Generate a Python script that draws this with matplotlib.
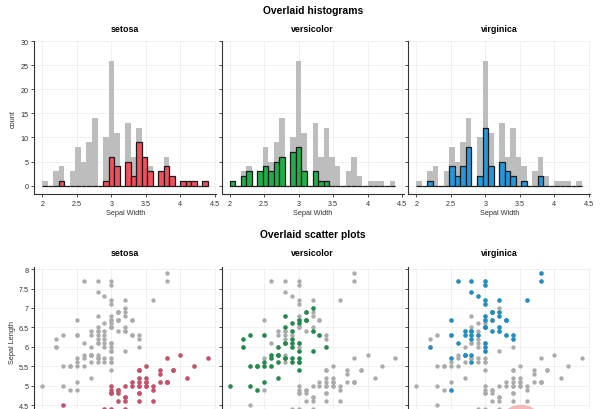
import matplotlib.pyplot as plt
import numpy as np
from matplotlib.patches import Ellipse

# iris data, sepal measurements per species
species = ['setosa', 'versicolor', 'virginica']

setosa_length = [5.1, 4.9, 4.7, 4.6, 5.0, 5.4, 4.6, 5.0, 4.4, 4.9, 5.4, 4.8, 4.8, 4.3, 5.8, 5.7, 5.4,
                 5.1, 5.7, 5.1, 5.4, 5.1, 4.6, 5.1, 4.8, 5.0, 5.0, 5.2, 5.2, 4.7, 4.8, 5.4, 5.2, 5.5,
                 4.9, 5.0, 5.5, 4.9, 4.4, 5.1, 5.0, 4.5, 4.4, 5.0, 5.1, 4.8, 5.1, 4.6, 5.3, 5.0]
setosa_width = [3.5, 3.0, 3.2, 3.1, 3.6, 3.9, 3.4, 3.4, 2.9, 3.1, 3.7, 3.4, 3.0, 3.0, 4.0, 4.4, 3.9,
                3.5, 3.8, 3.8, 3.4, 3.7, 3.6, 3.3, 3.4, 3.0, 3.4, 3.5, 3.4, 3.2, 3.1, 3.4, 4.1, 4.2,
                3.1, 3.2, 3.5, 3.6, 3.0, 3.4, 3.5, 2.3, 3.2, 3.5, 3.8, 3.0, 3.8, 3.2, 3.7, 3.3]

versicolor_length = [7.0, 6.4, 6.9, 5.5, 6.5, 5.7, 6.3, 4.9, 6.6, 5.2, 5.0, 5.9, 6.0, 6.1, 5.6, 6.7,
                     5.6, 5.8, 6.2, 5.6, 5.9, 6.1, 6.3, 6.1, 6.4, 6.6, 6.8, 6.7, 6.0, 5.7, 5.5, 5.5,
                     5.8, 6.0, 5.4, 6.0, 6.7, 6.3, 5.6, 5.5, 5.5, 6.1, 5.8, 5.0, 5.6, 5.7, 5.7, 6.2,
                     5.1, 5.7]
versicolor_width = [3.2, 3.2, 3.1, 2.3, 2.8, 2.8, 3.3, 2.4, 2.9, 2.7, 2.0, 3.0, 2.2, 2.9, 2.9, 3.1,
                    3.0, 2.7, 2.2, 2.5, 3.2, 2.8, 2.5, 2.8, 2.9, 3.0, 2.8, 3.0, 2.9, 2.6, 2.4, 2.4,
                    2.7, 2.7, 3.0, 3.4, 3.1, 2.3, 3.0, 2.5, 2.6, 3.0, 2.6, 2.3, 2.7, 3.0, 2.9, 2.9,
                    2.5, 2.8]

virginica_length = [6.3, 5.8, 7.1, 6.3, 6.5, 7.6, 4.9, 7.3, 6.7, 7.2, 6.5, 6.4, 6.8, 5.7, 5.8, 6.4,
                    6.5, 7.7, 7.7, 6.0, 6.9, 5.6, 7.7, 6.3, 6.7, 7.2, 6.2, 6.1, 6.4, 7.2, 7.4, 7.9,
                    6.4, 6.3, 6.1, 7.7, 6.3, 6.4, 6.0, 6.9, 6.7, 6.9, 5.8, 6.8, 6.7, 6.7, 6.3, 6.5,
                    6.2, 5.9]
virginica_width = [3.3, 2.7, 3.0, 2.9, 3.0, 3.0, 2.5, 2.9, 2.5, 3.6, 3.2, 2.7, 3.0, 2.5, 2.8, 3.2,
                   3.0, 3.8, 2.6, 2.2, 3.2, 2.8, 2.8, 2.7, 3.3, 3.2, 2.8, 3.0, 2.8, 3.0, 2.8, 3.8,
                   2.8, 2.8, 2.6, 3.0, 3.4, 3.1, 3.0, 3.1, 3.1, 3.1, 2.7, 3.2, 3.3, 3.0, 2.5, 3.0,
                   3.4, 3.0]

x_ticks = [2, 2.5, 3, 3.5, 4, 4.5]
x_ticklabels = ['2', '2.5', '3', '3.5', '4', '4.5']
count_ticks = [0, 5, 10, 15, 20, 25, 30]
length_ticks = [4.5, 5, 5.5, 6, 6.5, 7, 7.5, 8]
length_ticklabels = ['4.5', '5', '5.5', '6', '6.5', '7', '7.5', '8']

lengths = [setosa_length, versicolor_length, virginica_length]
widths = [setosa_width, versicolor_width, virginica_width]
all_length = setosa_length + versicolor_length + virginica_length
all_width = setosa_width + versicolor_width + virginica_width

hist_colors = ['#f04f5c', '#1fae4a', '#2597dd']
dot_colors = ['#c8506a', '#1f8b4c', '#1d8fc3']

plt.rcParams['font.family'] = ['Liberation Sans', 'DejaVu Sans']


def style(ax, show_left, show_bottom=True):
    for s in ['top', 'right']:
        ax.spines[s].set_visible(False)
    for s in ['left', 'bottom']:
        ax.spines[s].set_color('#333333')
        ax.spines[s].set_linewidth(0.8)
    ax.tick_params(direction='out', length=2.5, width=0.6, labelsize=5.2,
                   colors='#333333', pad=1.5, labelleft=show_left,
                   labelbottom=show_bottom)
    ax.grid(True, color='#ebebeb', linewidth=0.5)
    ax.set_axisbelow(True)


fig = plt.figure(figsize=(6, 4.1), dpi=100)

lefts = [0.0572, 0.3695, 0.6805]
w = 0.3033
centers = [l + w / 2 for l in lefts]

# 30 bins of 0.08 from 2.0 to 4.4; values sitting on an edge go the same
# way they do in the reference
edges = 2.0 + 0.08 * np.arange(31)
edges[[5, 15, 25]] -= 1e-6
edges[[10, 20]] += 1e-6
edges[-1] += 1e-6

for i, name in enumerate(species):
    # histograms
    ax = fig.add_axes([lefts[i], 0.5244, w, 0.3724])
    ax.hist(all_width, bins=edges, color='#bdbdbd', zorder=2)
    ax.hist(widths[i], bins=edges, color=hist_colors[i], edgecolor='#1a1a1a',
            linewidth=0.9, zorder=3)
    ax.set_xlim(1.885, 4.52)
    ax.set_ylim(-1.75, 30)
    ax.set_xticks(x_ticks)
    ax.set_xticklabels(x_ticklabels)
    ax.set_yticks(count_ticks)
    style(ax, i == 0)
    fig.text(centers[i], 1 - 29 / 410, name, ha='center', va='center',
             fontsize=6.4, fontweight='bold')
    fig.text(centers[i], 1 - 214 / 410, 'Sepal Width', ha='center', va='center',
             fontsize=5.3, color='#333333')

    # scatter plots
    ax2 = fig.add_axes([lefts[i], -0.0188, w, 0.3648])
    ax2.scatter(all_width, all_length, s=10, color='#ababab', linewidths=0, zorder=2)
    ax2.scatter(widths[i], lengths[i], s=10, color=dot_colors[i], linewidths=0, zorder=3)
    ax2.set_xlim(1.885, 4.52)
    ax2.set_ylim(4.2, 8.05)
    ax2.set_xticks(x_ticks)
    ax2.set_yticks(length_ticks)
    ax2.set_yticklabels(length_ticklabels)
    style(ax2, i == 0, show_bottom=False)
    fig.text(centers[i], 1 - 254 / 410, name, ha='center', va='center',
             fontsize=6.4, fontweight='bold')

fig.text(centers[1], 1 - 11 / 410, 'Overlaid histograms', ha='center', va='center',
         fontsize=7.4, fontweight='bold')
fig.text(centers[1], 1 - 235 / 410, 'Overlaid scatter plots', ha='center', va='center',
         fontsize=7.4, fontweight='bold')
fig.text(13 / 600, 1 - 119 / 410, 'count', ha='center', va='center', rotation=90,
         fontsize=5.3, color='#333333')
fig.text(13 / 600, 1 - 343 / 410, 'Sepal Length', ha='center', va='center', rotation=90,
         fontsize=5.3, color='#333333')

fig.patches.append(Ellipse((521 / 600, 1 - 415 / 410), 30 / 600, 17 / 410,
                           transform=fig.transFigure, color='#f3b9b9', zorder=5))

fig.savefig('out.png', dpi=100)
